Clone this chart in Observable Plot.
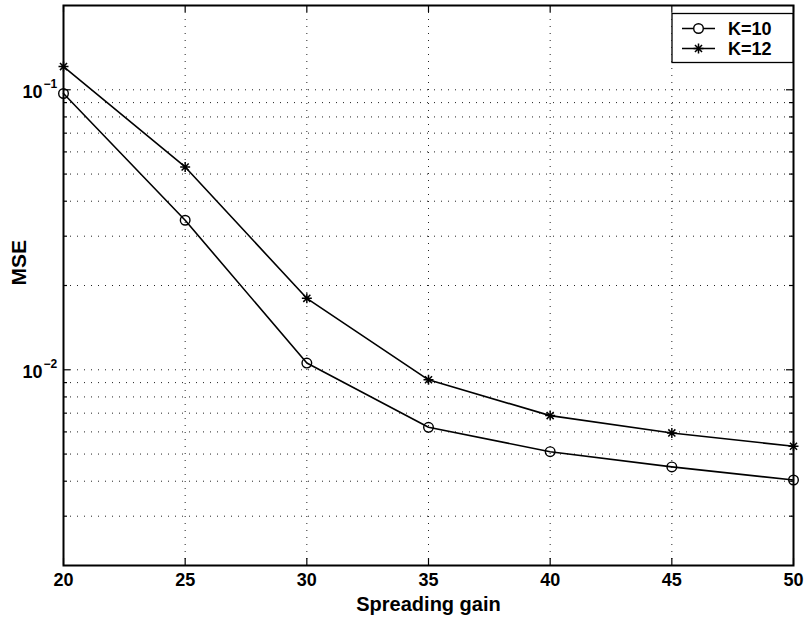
<!DOCTYPE html>
<html><head><meta charset="utf-8">
<script src="https://cdn.jsdelivr.net/npm/d3@7"></script>
<script src="https://cdn.jsdelivr.net/npm/@observablehq/plot@0.6"></script>
<style>body{margin:0;background:#fff;} svg{display:block}</style>
</head><body><div id="chart"></div>
<script>
const gains = [20, 25, 30, 35, 40, 45, 50];
const mseK10 = [0.097, 0.0342, 0.01057, 0.00623, 0.0051, 0.0045, 0.00404];
const mseK12 = [0.121, 0.053, 0.018, 0.00921, 0.00686, 0.00595, 0.00533];
const seriesNames = ["K=10", "K=12"];
const xTicks = [20, 25, 30, 35, 40, 45, 50];
const yMajorTicks = [0.01, 0.1];
const yMajorExponents = ["\u22122", "\u22121"];
const yMinorTicks = [0.003, 0.004, 0.005, 0.006, 0.007, 0.008, 0.009, 0.02, 0.03, 0.04, 0.05, 0.06, 0.07, 0.08, 0.09];
const xLabel = "Spreading gain";
const yLabel = "MSE";

const W = 804, H = 619, mL = 63, mR = 11, mT = 5, mB = 54;
const iw = W - mL - mR, ih = H - mT - mB;
const font = "'Liberation Sans', Arial, Helvetica, sans-serif";

const rows = gains.flatMap((g, i) => [
  {g, v: mseK10[i], s: seriesNames[0]},
  {g, v: mseK12[i], s: seriesNames[1]}
]);

const star8 = {
  draw(ctx, size) {
    const r = Math.sqrt(size / Math.PI), d = r * Math.SQRT1_2;
    ctx.moveTo(-r, 0); ctx.lineTo(r, 0);
    ctx.moveTo(0, -r); ctx.lineTo(0, r);
    ctx.moveTo(-d, -d); ctx.lineTo(d, d);
    ctx.moveTo(-d, d); ctx.lineTo(d, -d);
  }
};

const gridStyle = {stroke: "#222", strokeWidth: 1, strokeDasharray: "1,6"};
const txt = {fontFamily: font, fontWeight: "bold", fill: "black"};

const plot = Plot.plot({
  width: W, height: H,
  marginLeft: mL, marginRight: mR, marginTop: mT, marginBottom: mB,
  style: {background: "white", fontFamily: font},
  x: {domain: [20, 50], axis: null},
  y: {type: "log", domain: [0.002, 0.2], axis: null},
  marks: [
    Plot.ruleY([...yMinorTicks, ...yMajorTicks], {y: d => d, ...gridStyle}),
    Plot.ruleX(xTicks.slice(1, -1), {x: d => d, ...gridStyle}),
    // inward ticks
    Plot.tickX(xTicks, {x: d => d, insetTop: ih - 7, stroke: "black", strokeWidth: 1.2}),
    Plot.tickX(xTicks, {x: d => d, insetBottom: ih - 7, stroke: "black", strokeWidth: 1.2}),
    Plot.tickY(yMajorTicks, {y: d => d, insetRight: iw - 7, stroke: "black", strokeWidth: 1.2}),
    Plot.tickY(yMajorTicks, {y: d => d, insetLeft: iw - 7, stroke: "black", strokeWidth: 1.2}),
    Plot.tickY(yMinorTicks, {y: d => d, insetRight: iw - 4, stroke: "black", strokeWidth: 1.2}),
    Plot.tickY(yMinorTicks, {y: d => d, insetLeft: iw - 4, stroke: "black", strokeWidth: 1.2}),
    Plot.line(rows, {x: "g", y: "v", z: "s", stroke: "black", strokeWidth: 1.6}),
    Plot.dot(rows.filter(d => d.s === seriesNames[0]), {x: "g", y: "v", r: 4.8, stroke: "black", strokeWidth: 1.4, fill: "none"}),
    Plot.dot(rows.filter(d => d.s === seriesNames[1]), {x: "g", y: "v", r: 5, symbol: star8, stroke: "black", strokeWidth: 1.5, fill: "none"}),
    Plot.frame({stroke: "black", strokeWidth: 2}),
    // tick labels
    Plot.text(xTicks, {x: d => d, frameAnchor: "bottom", lineAnchor: "top", dy: 8, text: d => String(d), fontSize: 18, ...txt}),
    Plot.text(yMajorTicks, {y: d => d, frameAnchor: "left", textAnchor: "end", lineAnchor: "middle", dx: -21, dy: 2, text: () => "10", fontSize: 18, ...txt}),
    Plot.text(yMajorTicks, {y: d => d, frameAnchor: "left", textAnchor: "start", lineAnchor: "bottom", dx: -20, dy: -2, text: (d, i) => yMajorExponents[i], fontSize: 12, ...txt}),
    // axis labels
    Plot.text([xLabel], {frameAnchor: "bottom", lineAnchor: "bottom", dy: 45, text: d => d, fontSize: 20, ...txt}),
    Plot.text([yLabel], {frameAnchor: "left", rotate: -90, dx: -44, text: d => d, fontSize: 21, ...txt})
  ]
});

// legend (inside the axes, top-right like MATLAB)
const svg = d3.select(plot);
const lw = 121, lh = 49, lx = W - mR - lw, ly = mT + 8.5;
const lg = svg.append("g").attr("font-family", font).attr("font-weight", "bold")
  .attr("font-size", 18).attr("text-anchor", "start");
lg.append("rect").attr("x", lx).attr("y", ly).attr("width", lw).attr("height", lh)
  .attr("fill", "white").attr("stroke", "black").attr("stroke-width", 1.3);
seriesNames.forEach((name, i) => {
  const cy = ly + 15 + i * 20;
  lg.append("line").attr("x1", lx + 10).attr("x2", lx + 43).attr("y1", cy).attr("y2", cy)
    .attr("stroke", "black").attr("stroke-width", 1.5);
  const cx = lx + 26.5;
  if (i === 0) {
    lg.append("circle").attr("cx", cx).attr("cy", cy).attr("r", 4.8).attr("fill", "white").attr("stroke", "black").attr("stroke-width", 1.4);
  } else {
    const p = d3.path(); star8.draw(p, 25 * Math.PI);
    lg.append("path").attr("d", p.toString()).attr("transform", `translate(${cx},${cy})`).attr("stroke", "black").attr("stroke-width", 1.5).attr("fill", "none");
  }
  lg.append("text").attr("x", lx + 56).attr("y", cy).attr("dy", "0.35em").attr("text-anchor", "start").text(name);
});

document.getElementById("chart").appendChild(plot);
</script>
</body></html>
